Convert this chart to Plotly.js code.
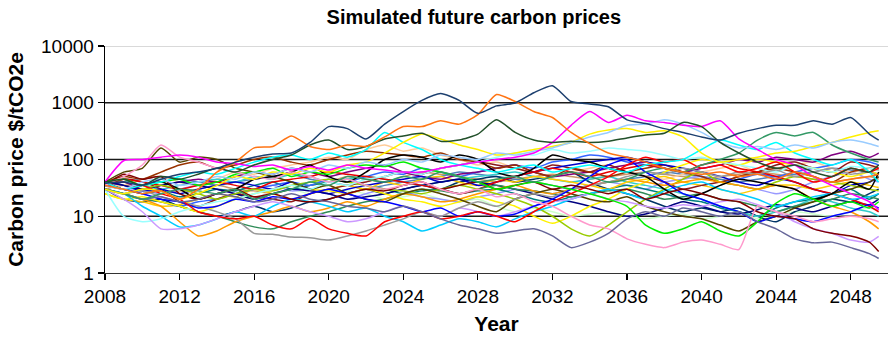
<!DOCTYPE html>
<html>
<head>
<meta charset="utf-8">
<script src="https://cdn.plot.ly/plotly-3.0.1.min.js"></script>
<style>
  html, body { margin: 0; padding: 0; background: #fff; }
  #chart { width: 889px; height: 338px; }
</style>
</head>
<body>
<div id="chart"></div>
<script>
// Simulation time axis (annual steps, last half-year step to mid-2049)
const years = [2008,2009,2010,2011,2012,2013,2014,2015,2016,2017,
               2018,2019,2020,2021,2022,2023,2024,2025,2026,2027,
               2028,2029,2030,2031,2032,2033,2034,2035,2036,2037,
               2038,2039,2040,2041,2042,2043,2044,2045,2046,2047,
               2048,2049,2049.5];

// Axis labels
const yTickVals = [1, 10, 100, 1000, 10000];
const yTickText = ["1", "10", "100", "1000", "10000"];
const xTickVals = [2008, 2012, 2016, 2020, 2024, 2028, 2032, 2036, 2040, 2044, 2048];

// Simulated price paths, $/tCO2e
const navy = [38,40,35,45,55,60,70,90,110,125, 130,200,380,350,230,420,700,1100,1450,1100,
              650,880,990,1500,2000,1050,950,850,500,430, 350,300,250,220,290,350,400,400,480,420, 550,280,220];
const orange = [35,30,25,28,20,30,60,90,160,170, 260,170,150,180,170,250,380,380,480,420,
                620,1400,1050,700,550,300,190,130,110,90, 70,60,55,60,50,55,45,60,50,40, 45,50,55];
const darkGreen = [40,45,35,50,45,55,70,60,80,100, 120,180,220,150,170,230,260,290,210,220,
                   280,500,300,220,200,210,200,210,240,270, 290,450,380,200,130,90,70,80,60,50, 70,60,80];
const magenta = [40,95,100,110,120,110,90,85,75,80, 65,75,65,80,70,65,60,60,70,80,
                 90,100,110,130,200,400,700,450,600,480, 450,400,380,480,230,150,100,80,50,35, 25,18,13];
const lightBlue = [35,30,40,45,35,40,50,45,60,55, 70,60,80,70,90,80,100,90,120,110,
                   100,130,120,140,160,200,250,300,400,420, 500,420,300,200,160,170,150,180,160,200, 220,190,170];
const yellow = [30,25,30,28,20,25,35,50,45,60, 55,70,60,80,90,130,200,280,230,180,
                150,120,130,150,170,200,280,330,350,300, 320,250,130,90,100,110,130,140,170,200, 250,300,320];
const seaGreen = [30,25,20,25,30,28,25,30,20,25, 30,40,35,50,45,40,50,45,60,50,
                  40,45,50,40,50,60,50,40,45,60, 70,60,80,100,130,220,300,260,300,180, 130,100,90];
const slate = [30,25,20,22,18,20,25,22,18,20, 25,20,18,15,14,12,15,12,9,7,
               6,5,5.5,6,4.5,2.8,3.5,5,9,12, 10,14,12,10,12,8,6,4,3.4,3.5, 2.8,2.2,1.8];
const pink = [35,50,80,180,110,90,70,60,50,45, 60,50,40,45,35,30,35,40,30,25,
              30,22,25,18,15,10,7,6,4,3.2, 2.8,3.5,3.8,3.2,2.6,15,12,10,8,9, 10,9,8];
const gray = [30,25,28,22,18,15,12,9,5,4.8, 4.3,4.2,3.8,4.5,5.5,7,9,12,10,14,
              18,15,20,25,22,30,35,40,50,60, 55,70,60,50,60,55,65,50,60,70, 55,60,50];
const green = [40,45,35,40,45,35,40,55,60,70, 50,60,55,70,80,75,90,70,60,50,
               40,30,35,40,35,30,25,20,15,7, 5,6,8,5.5,4.5,8,17,25,20,15, 18,14,18];
const darkRed = [35,55,45,50,25,20,25,30,22,25, 20,18,20,25,30,28,35,40,30,35,
                 40,30,35,40,30,35,30,25,30,20, 25,30,25,20,18,12,10,9,6,5, 4.5,3.5,2.4];
const lightPurple = [30,20,12,6,6,7,9,12,15,18, 15,12,10,8,9,12,15,12,10,14,
                     12,10,12,15,18,20,25,20,18,15, 14,16,15,18,20,16,12,8,6,5, 3.8,3.5,4.4];
const lightCyan = [30,10,8,9,12,15,18,20,25,30, 35,30,40,35,45,50,60,55,70,80,
                   90,110,130,120,150,130,140,160,150,140, 120,100,110,90,80,70,60,80,70,60, 75,70,65];
const cyan = [40,30,35,40,50,60,55,70,90,110, 120,100,130,110,150,300,200,150,100,80,
              70,60,70,80,60,70,80,70,60,80, 90,100,150,220,180,150,200,130,100,80, 100,60,40];
const red = [40,30,35,25,20,12,10,9,10,7, 6,9,6,5,4.5,8,10,12,9,10,
             12,10,8,12,18,25,35,50,80,110, 90,100,70,80,60,70,90,60,40,50, 70,60,70];
const blue = [35,30,25,20,18,14,15,20,18,22, 20,25,30,25,20,18,15,12,14,10,
              12,10,11,15,20,30,50,80,100,60, 40,25,20,15,12,8,10,9,8,10, 12,16,14];
const blue2 = [40,35,28,30,25,30,35,40,35,30, 40,30,25,30,35,40,45,50,40,45,
               35,40,50,60,70,80,90,100,110,90, 80,70,60,50,40,35,45,40,30,25, 35,40,50];
const black = [40,30,35,40,30,20,25,30,45,50, 60,80,50,40,60,100,120,110,90,120,
               100,60,50,70,120,100,90,70,60,50, 30,20,25,35,45,40,35,30,20,25, 40,30,60];
const brown = [40,50,45,60,80,90,70,80,100,110, 90,80,100,120,140,130,120,110,130,100,
               90,70,80,60,50,70,60,50,60,70, 80,60,50,40,50,60,70,60,50,40, 60,70,65];
const maroon = [35,45,40,30,18,15,20,25,22,20, 18,25,30,35,40,50,60,55,70,80,
                90,80,70,60,80,70,60,80,60,50, 40,30,35,40,50,60,80,90,70,60, 90,80,70];
const teal = [35,30,25,28,22,25,30,28,35,40, 30,35,40,45,35,30,25,28,30,25,
              28,30,25,20,18,22,25,30,35,30, 25,20,18,14,12,10,14,18,20,25, 30,20,25];
const purple = [35,40,30,35,40,45,40,50,60,55, 70,60,50,60,70,80,60,50,45,55,
                60,70,80,60,50,55,60,70,80,90, 70,60,70,80,100,90,110,100,90,120, 140,110,130];
const royalBlue = [30,25,20,18,15,18,20,25,30,35, 40,35,45,40,50,60,55,70,60,50,
                   60,70,80,70,90,100,120,110,90,80, 70,60,50,40,45,55,50,60,70,80, 100,90,80];
const gold = [25,20,18,15,16,20,25,22,30,25, 20,25,30,35,30,40,35,45,50,40,
              35,45,40,50,45,40,35,30,40,45, 50,40,35,30,25,30,35,35,30,35, 40,35,32];
const lightOrange = [40,35,45,50,40,35,45,60,55,70, 80,90,110,100,150,180,140,160,120,100,
                     80,90,70,60,50,60,70,80,60,50, 45,55,60,70,80,60,70,80,90,70, 60,70,80];
const darkTeal = [30,20,18,20,15,12,10,12,15,12, 14,18,20,25,30,25,30,35,30,40,
                  45,50,40,45,50,60,40,30,25,20, 15,12,14,12,14,10,8,12,15,20, 18,25,30];
const lavender = [35,30,28,25,30,35,30,25,30,35, 28,30,25,20,25,30,28,22,20,18,
                  22,25,30,28,25,30,35,40,35,30, 40,45,50,40,35,30,25,30,40,50, 60,45,40];
const lightGreen = [30,25,30,28,25,22,20,25,30,35, 30,25,30,28,25,20,22,25,20,18,
                    20,15,12,14,12,10,11,12,10,9, 10,11,9,10,12,9,10,12,11,10, 12,14,13];
const darkOlive = [40,60,70,160,90,110,100,70,60,50, 40,30,35,25,20,18,25,30,25,20,
                   15,12,20,25,30,25,20,18,22,15, 12,10,9,7,5.5,8,10,14,18,25, 30,40,50];
const turquoise = [35,40,35,30,35,40,45,40,50,45, 55,50,40,45,50,45,40,35,40,45,
                   50,55,60,50,45,40,45,50,40,35, 30,25,20,15,12,10,12,15,20,18, 14,12,10];
const sky = [30,25,15,10,6.5,7,9,12,10,15, 20,18,15,12,14,10,8,5.5,7,9,
             8,6.5,9,12,15,20,25,30,25,20, 28,35,40,30,25,20,15,18,22,25, 20,22,25];
const orange2 = [30,25,20,15,8,4.5,5.5,8,10,12, 15,12,14,18,15,20,25,22,18,20,
                 25,30,35,28,25,30,35,40,45,40, 35,40,45,40,35,30,35,30,20,15, 12,8,6];
const oliveGreen = [30,25,30,35,30,25,20,25,30,28, 35,40,45,40,35,30,28,25,30,35,
                    30,25,20,15,10,6,4.5,7,12,20, 30,45,60,40,35,30,40,50,45,40, 35,30,28];
const yellow2 = [25,20,22,18,15,12,15,20,25,30, 35,30,28,25,30,25,20,18,15,18,
                 22,18,15,10,7.5,10,15,20,30,40, 60,80,100,90,80,100,90,80,70,60, 50,60,55];
const seaGreen2 = [30,25,20,18,15,12,10,8,6.5,6, 8,10,12,15,18,20,25,30,28,25,
                   30,35,30,28,25,22,25,28,30,25, 20,22,25,20,18,15,12,15,18,20, 25,22,20];
const red2 = [35,45,40,35,30,35,40,35,30,40, 45,50,60,55,50,45,40,35,30,25,
              30,40,50,60,70,60,50,60,70,80, 70,60,80,90,70,60,50,40,30,25, 20,15,12];
const steel = [35,40,45,50,45,40,35,40,45,50, 55,45,40,35,30,35,40,45,50,60,
               55,50,45,40,35,30,35,40,45,50, 60,55,50,45,40,45,50,55,60,70, 65,60,55];
const tan = [30,35,30,25,28,30,35,30,28,25, 30,35,40,50,45,40,50,60,55,50,
             45,40,45,50,55,50,45,50,55,60, 55,50,45,50,55,60,55,50,45,40, 45,50,45];
const darkBlue = [40,35,30,35,40,35,30,25,20,25, 30,28,25,20,22,25,30,35,40,45,
                  40,35,30,25,20,18,15,12,10,11, 14,18,15,12,11,13,16,14,12,15, 18,16,20];

// Drawing order: background paths first, prominent paths on top
const paths = [
  [lightGreen, '#CCFFCC'], [tan, '#CC9966'], [steel, '#4F81BD'], [lavender, '#9999FF'],
  [lightOrange, '#FFCC99'], [teal, '#008080'], [darkTeal, '#003366'], [turquoise, '#33CCCC'],
  [gold, '#FFCC00'], [royalBlue, '#3366FF'], [purple, '#800080'], [maroon, '#8B1A1A'],
  [brown, '#993300'], [blue2, '#0000CC'], [darkBlue, '#000080'], [red2, '#E60000'],
  [seaGreen2, '#2E8B57'], [yellow2, '#FFF200'], [oliveGreen, '#99CC00'], [orange2, '#FF9900'],
  [sky, '#00CCFF'], [darkOlive, '#554400'], [lightCyan, '#99FFFF'], [lightPurple, '#CC99FF'],
  [gray, '#999999'], [black, '#000000'], [blue, '#0000FF'], [red, '#FF0000'],
  [darkRed, '#800000'], [green, '#00EE00'], [pink, '#FF99CC'], [slate, '#666699'],
  [seaGreen, '#339966'], [cyan, '#00FFFF'], [yellow, '#FFF000'], [lightBlue, '#99CCFF'],
  [magenta, '#FF00FF'], [darkGreen, '#22502A'], [orange, '#FF7414'], [navy, '#1C3F6E']
];

const traces = paths.map(([vals, color]) => ({
  type: 'scatter',
  mode: 'lines',
  x: years,
  y: vals,
  line: { color: color, width: 1.5, shape: 'spline', smoothing: 0.6 },
  hoverinfo: 'skip',
  showlegend: false
}));

const font = 'Liberation Sans, Arial, Helvetica, sans-serif';

// Horizontal reference lines at each decade
const decadeLines = [10, 100, 1000].map(v => ({
  type: 'line', xref: 'paper', yref: 'y', x0: 0, x1: 1, y0: v, y1: v,
  line: { color: '#1a1a1a', width: 1.3 }, layer: 'below'
}));
decadeLines.push({
  type: 'line', xref: 'paper', yref: 'y', x0: 0, x1: 1, y0: 10000, y1: 10000,
  line: { color: '#cccccc', width: 1.3 }, layer: 'below'
});

const layout = {
  width: 889,
  height: 338,
  margin: { l: 105, r: 1, t: 46, b: 65 },
  paper_bgcolor: '#ffffff',
  plot_bgcolor: '#ffffff',
  font: { family: font, color: '#000000' },
  title: {
    text: '<b>Simulated future carbon prices</b>',
    font: { family: font, size: 20, color: '#000000' },
    x: 0.533, xanchor: 'center', xref: 'container',
    y: 0.95, yanchor: 'middle', yref: 'container'
  },
  xaxis: {
    range: [2008, 2050],
    tickvals: xTickVals,
    ticktext: xTickVals.map(String),
    ticks: 'outside', ticklen: 6, tickwidth: 1.2, tickcolor: '#000000',
    showline: true, linecolor: '#333333', linewidth: 1.3,
    showgrid: false, zeroline: false,
    tickfont: { family: font, size: 19, color: '#000000' },
    title: { text: '<b>Year</b>', font: { family: font, size: 21, color: '#000000' }, standoff: 10 },
    automargin: false
  },
  yaxis: {
    type: 'log',
    range: [0, 4],
    tickvals: yTickVals,
    ticktext: yTickText,
    ticks: 'outside', ticklen: 6, tickwidth: 1.2, tickcolor: '#000000',
    showline: true, linecolor: '#000000', linewidth: 1.3,
    showgrid: false, zeroline: false,
    tickfont: { family: font, size: 19, color: '#000000' },
    title: { text: '<b>Carbon price $/tCO2e</b>', font: { family: font, size: 21, color: '#000000' }, standoff: 11 },
    automargin: false
  },
  shapes: decadeLines
};

Plotly.newPlot('chart', traces, layout, { displayModeBar: false, staticPlot: true });
</script>
</body>
</html>
